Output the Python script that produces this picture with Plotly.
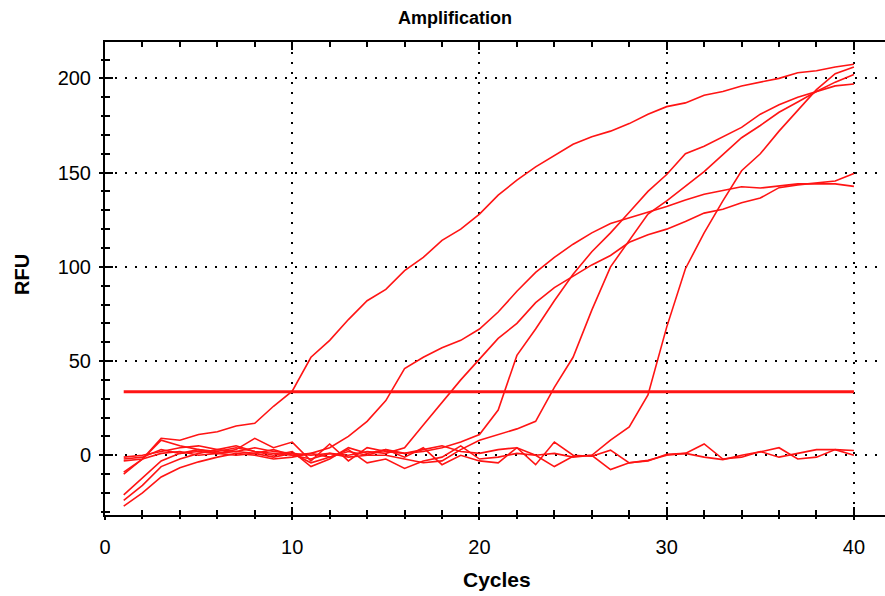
import plotly.graph_objects as go

cycles = list(range(1, 41))

well_A = [-10, -2, 9, 8, 11, 12.5, 15.5, 17, 26, 34, 52, 61, 72, 82, 88, 98, 105, 114, 120, 128,
          138, 146, 153, 159, 165, 169, 172, 176, 181, 185, 187, 191, 193, 196, 198, 200, 203, 204, 206, 207.5]
well_B = [-21, -12, -3, 1, 3, 2, 4, 2, 1, 0, 1, 4, 10, 18, 29, 46, 52, 57, 61, 67,
          76, 87, 97, 105, 112, 118, 123, 126, 129, 132, 135.5, 138.5, 140.5, 142.5, 141.8, 143, 144, 144, 144, 142.7]
well_D = [-24, -16, -6, -2, 1, 3, 2, 1, 3, 0, -2, 1, 0, 2, 1, 4, 16, 28, 40, 51,
          62, 70, 81, 89, 95, 101, 106, 113, 117, 120, 124, 128.5, 130.5, 134, 136.5, 142, 143.5, 144.5, 145.5, 149.5]
well_E = [-9, -2, 8, 5, 3, 1, 2, 4, 2, 1, -4, -1, 2, 0, 3, 1, 2, 4, 7, 11,
          24, 53, 67, 82, 96, 108, 118, 129, 140, 149, 160, 164, 169, 174, 181, 186, 190, 193, 196, 197]
well_F = [-3, -2, 1, 2, 0, 1, 0, 1, -1, 1, 0, 1, -1, 0, 0, -2, -4, -3, 3, 8,
          11, 14, 18, 36, 52, 77, 100, 114, 128, 135, 143, 150.5, 159.5, 168.5, 175, 182, 187.5, 193, 198, 202]
well_G = [-27, -20, -11.5, -6.6, -3.5, -1, 1, 0, -2, -1, 1, -1, 3, -4, -2, -7, -3, -1, 5, -2,
          -1, 1, 0, 1, -1, 0, 8, 15, 32, 68, 99, 118, 135, 151, 160, 172, 183, 194, 202.5, 206]
well_N1 = [-1, 0, 2, 4, 5, 3, 5, 2, 0, 2, -6, -2, 4, 1, 3, -1, 4, -5, 0, -3,
           -4, 4, -5, 7, 0, -0.5, 2.7, -4, -2.7, 0, 1, 6, -2, -1, 2, -1, 1, 3, 3, 2.5]
well_N2 = [-2, -1, 3, 1, 2, 1, 3, 9, 4, 7, -3, 6, -3, 4, 2, 1, 3, 5, 2, 1,
           3, 4, 0, -6, -0.5, 0, -7.6, -4, -3, 0.5, 1, -1, -2.3, 0, 1.8, 4, -2, -1, 3, 0]

wells = [well_A, well_B, well_D, well_E, well_F, well_G, well_N1, well_N2]

threshold_value = 33.7
threshold_x = [1, 40]

x_range = [0, 41.66]
y_range = [-31.7, 219.3]
x_tick_labels = ["0", "10", "20", "30", "40"]
y_tick_labels = ["0", "50", "100", "150", "200"]

RED = "#ff1414"
FONT = "Liberation Sans, Arial, sans-serif"

fig = go.Figure()
for w in wells:
    fig.add_trace(go.Scatter(x=cycles, y=w, mode="lines",
                             line=dict(color=RED, width=1.6), showlegend=False, hoverinfo="skip"))
fig.add_trace(go.Scatter(x=threshold_x, y=[threshold_value] * 2, mode="lines",
                         line=dict(color=RED, width=3), showlegend=False, hoverinfo="skip"))
# invisible trace for overlay axes
fig.add_trace(go.Scatter(x=[0], y=[0], xaxis="x2", yaxis="y2", mode="markers",
                         marker=dict(opacity=0), showlegend=False, hoverinfo="skip"))

fig.update_layout(
    width=885, height=596,
    margin=dict(l=105, r=0, t=42, b=81),
    paper_bgcolor="white", plot_bgcolor="white",
    font=dict(family=FONT, color="black"),
    xaxis=dict(range=x_range, tickvals=[0, 10, 20, 30, 40], ticktext=x_tick_labels,
               showline=True, linecolor="black", linewidth=2, mirror="ticks",
               ticks="inside", ticklen=8, tickwidth=2, tickcolor="black",
               minor=dict(ticks="inside", ticklen=5, tickwidth=1.5, dtick=2, tick0=0, tickcolor="black", showgrid=False),
               showgrid=True, gridcolor="black", gridwidth=1.5, griddash="2px,8px",
               zeroline=False, tickfont=dict(size=20, family=FONT),
               ticklabelstandoff=13),
    yaxis=dict(range=y_range, tickvals=[0, 50, 100, 150, 200], ticktext=y_tick_labels,
               showline=True, linecolor="black", linewidth=2,
               ticks="inside", ticklen=8, tickwidth=2, tickcolor="black",
               minor=dict(ticks="inside", ticklen=5, tickwidth=1.5, dtick=10, tick0=0, tickcolor="black", showgrid=False),
               showgrid=True, gridcolor="black", gridwidth=1.5, griddash="2px,8px",
               zeroline=False, tickfont=dict(size=20, family=FONT),
               ticklabelstandoff=8),
    xaxis2=dict(overlaying="x", matches="x", side="bottom", showgrid=False, zeroline=False,
                showticklabels=False, ticks="outside", ticklen=4, tickwidth=2, tickcolor="black",
                tickvals=[0, 10, 20, 30, 40],
                minor=dict(ticks="outside", ticklen=3, tickwidth=1.5, dtick=2, tick0=0, tickcolor="black")),
    yaxis2=dict(overlaying="y", matches="y", side="left", showgrid=False, zeroline=False,
                showticklabels=False, ticks="outside", ticklen=5, tickwidth=2, tickcolor="black",
                tickvals=[0, 50, 100, 150, 200],
                minor=dict(ticks="outside", ticklen=3, tickwidth=1.5, dtick=10, tick0=0, tickcolor="black")),
    annotations=[
        dict(text="<b>Amplification</b>", x=0.4487, y=1.0507, xref="paper", yref="paper",
             xanchor="center", yanchor="middle", showarrow=False, font=dict(size=18, family=FONT)),
        dict(text="<b>RFU</b>", x=-0.1064, y=0.5074, xref="paper", yref="paper", textangle=-90,
             xanchor="center", yanchor="middle", showarrow=False, font=dict(size=20, family=FONT)),
        dict(text="<b>Cycles</b>", x=0.5026, y=-0.1374, xref="paper", yref="paper",
             xanchor="center", yanchor="middle", showarrow=False, font=dict(size=21, family=FONT)),
    ],
)

fig.write_html("out.html", config={"displayModeBar": False},
               post_script="document.body.style.margin='0';document.body.style.overflow='hidden';")
